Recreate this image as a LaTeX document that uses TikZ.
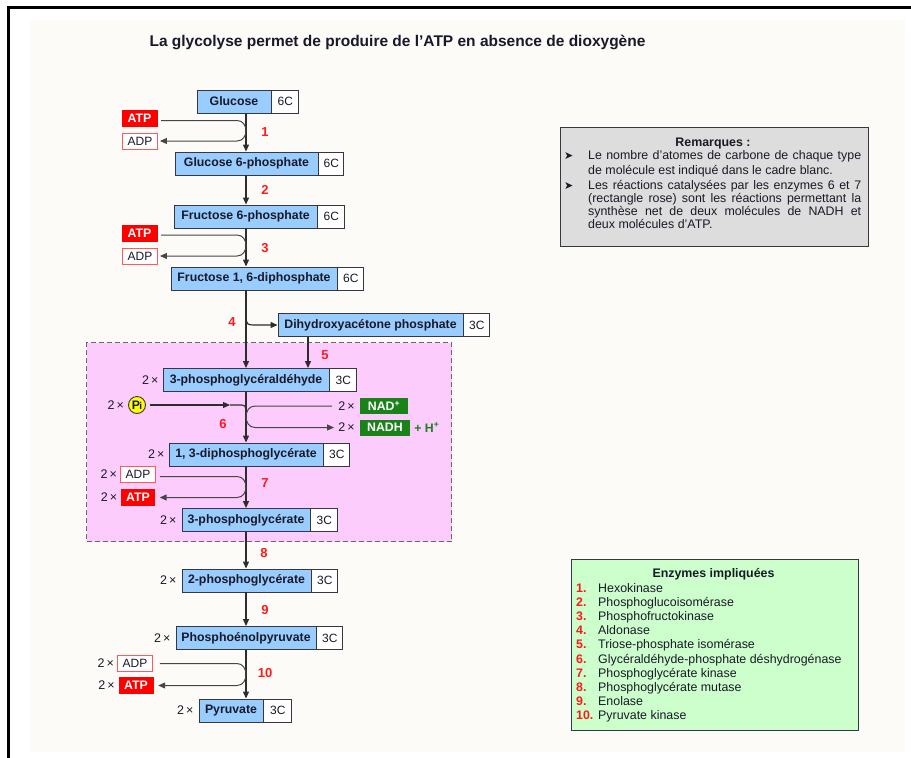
\documentclass[tikz,border=0pt]{standalone}
\usepackage{fontspec}
\setmainfont{Liberation Sans}
\newfontfamily\glyDejavu{DejaVu Sans}
\usetikzlibrary{arrows.meta}
\definecolor{boxblue}{RGB}{153,204,255}
\definecolor{edgec}{RGB}{55,55,65}
\definecolor{txtc}{RGB}{25,25,40}
\definecolor{atpred}{RGB}{255,0,0}
\definecolor{adpred}{RGB}{255,90,90}
\definecolor{nadgreen}{RGB}{25,130,25}
\definecolor{pinkfill}{RGB}{252,204,252}
\definecolor{pinkedge}{RGB}{110,100,110}
\definecolor{remgray}{RGB}{221,221,221}
\definecolor{enzgreen}{RGB}{204,255,204}
\definecolor{numred}{RGB}{255,25,25}
\definecolor{bgc}{RGB}{252,251,247}
\definecolor{piyellow}{RGB}{255,255,0}
\definecolor{linec}{RGB}{45,45,45}
\definecolor{ulinec}{RGB}{70,70,70}
\newcommand\glyBox{\fontsize{12.3}{14}\selectfont\bfseries}
\newcommand\glyC{\fontsize{12}{14}\selectfont}
\newcommand\glyAtp{\fontsize{12.3}{14}\selectfont\bfseries}
\newcommand\glyAdp{\fontsize{12}{14}\selectfont}
\newcommand\glyTwo{\fontsize{12.5}{14}\selectfont}
\newcommand\glyNum{\fontsize{13}{14}\selectfont\bfseries}
\newcommand\glyTitle{\fontsize{15.5}{18}\selectfont\bfseries}
\newcommand\glyRem{\fontsize{12.4}{14}\selectfont}
\newcommand\glyRemB{\fontsize{12.4}{14}\selectfont\bfseries}
\newcommand\glyBul{\fontsize{11}{12}\selectfont\glyDejavu}
\tikzset{
  bbox/.style={draw=edgec, fill=boxblue, line width=0.9pt, minimum height=23pt, inner sep=0pt, font=\glyBox, text=txtc},
  cbox/.style={draw=edgec, fill=white, line width=0.9pt, minimum height=23pt, inner sep=0pt, font=\glyC, text=txtc, anchor=west},
  atpbox/.style={fill=atpred, draw=atpred, minimum width=35pt, minimum height=16pt, inner sep=0pt, font=\glyAtp, text=white},
  adpbox/.style={fill=white, draw=adpred, line width=0.9pt, minimum width=35pt, minimum height=16pt, inner sep=0pt, font=\glyAdp, text=txtc},
  nadbox/.style={fill=nadgreen, minimum height=16pt, inner sep=0pt, font=\glyAtp, text=white},
  twox/.style={font=\glyTwo, text=txtc, inner sep=0pt, anchor=east},
  stepnum/.style={font=\glyNum, text=numred, inner sep=0pt},
  flow/.style={draw=linec, line width=1.2pt, -{Triangle[length=7pt,width=6pt]}},
  uflow/.style={draw=ulinec, line width=1pt, -{Triangle[length=7pt,width=6pt]}},
  uline/.style={draw=linec, line width=1.2pt},
  remline/.style={anchor=base west, inner sep=0pt, font=\glyRem, text=txtc},
}
\begin{document}
\begin{tikzpicture}[x=1pt,y=-1pt]
\useasboundingbox (0,0) rectangle (911,758);
\fill[white] (0,0) rectangle (911,758);
\fill[bgc] (30,20) rectangle (905,752);
\draw[line width=3pt, black] (8,758) -- (8,7.5) -- (911,7.5);

% title
\node[font=\glyTitle, text=txtc, inner sep=0pt] (title) at (397.5,42) {La glycolyse permet de produire de l'ATP en absence de dioxygène};

% pink zone
\node[draw=pinkedge, fill=pinkfill, line width=1pt, dash pattern=on 5pt off 3pt, minimum width=365pt, minimum height=199pt, inner sep=0pt, anchor=north west] (pinkzone) at (86,342) {};

% molecules
\node[bbox, minimum width=74pt] (glc) at (234,101.5) {Glucose};
\node[cbox, minimum width=27pt] (glcC) at (glc.east) {6C};
\node[bbox, minimum width=143pt] (g6p) at (246.5,163.5) {Glucose 6-phosphate};
\node[cbox, minimum width=25pt] (g6pC) at (g6p.east) {6C};
\node[bbox, minimum width=143pt] (f6p) at (245.5,216.5) {Fructose 6-phosphate};
\node[cbox, minimum width=27pt] (f6pC) at (f6p.east) {6C};
\node[bbox, minimum width=166pt] (f16) at (254,278.5) {Fructose 1, 6-diphosphate};
\node[cbox, minimum width=26pt] (f16C) at (f16.east) {6C};
\node[bbox, minimum width=185pt] (dhap) at (370.5,325) {Dihydroxyacétone phosphate};
\node[cbox, minimum width=26pt] (dhapC) at (dhap.east) {3C};
\node[bbox, minimum width=166pt] (pgal) at (246,380) {3-phosphoglycéraldéhyde};
\node[cbox, minimum width=27pt] (pgalC) at (pgal.east) {3C};
\node[bbox, minimum width=154pt] (bpg) at (246,454.5) {1, 3-diphosphoglycérate};
\node[cbox, minimum width=26pt] (bpgC) at (bpg.east) {3C};
\node[bbox, minimum width=128pt] (pg3) at (246,520) {3-phosphoglycérate};
\node[cbox, minimum width=27pt] (pg3C) at (pg3.east) {3C};
\node[bbox, minimum width=129pt] (pg2) at (246.5,580.5) {2-phosphoglycérate};
\node[cbox, minimum width=26pt] (pg2C) at (pg2.east) {3C};
\node[bbox, minimum width=140pt] (pep) at (246,638) {Phosphoénolpyruvate};
\node[cbox, minimum width=26pt] (pepC) at (pep.east) {3C};
\node[bbox, minimum width=64pt] (pyr) at (231,710.5) {Pyruvate};
\node[cbox, minimum width=28pt] (pyrC) at (pyr.east) {3C};

% 2x labels of molecules
\node[twox] (tpgal) at ([xshift=-4pt]pgal.west) {2\,×};
\node[twox] (tbpg) at ([xshift=-4pt]bpg.west) {2\,×};
\node[twox] (tpg3) at ([xshift=-5pt]pg3.west) {2\,×};
\node[twox] (tpg2) at ([xshift=-5pt]pg2.west) {2\,×};
\node[twox] (tpep) at ([xshift=-5pt]pep.west) {2\,×};
\node[twox] (tpyr) at ([xshift=-5pt]pyr.west) {2\,×};

% ATP / ADP
\node[atpbox] (atp1) at (139.5,118.5) {ATP};
\node[adpbox] (adp1) at (140,141) {ADP};
\node[atpbox] (atp2) at (139.5,233) {ATP};
\node[adpbox] (adp2) at (140,256) {ADP};
\node[adpbox] (adp3) at (138,474.5) {ADP};
\node[atpbox, minimum width=33pt] (atp3) at (138,497.5) {ATP};
\node[adpbox] (adp4) at (135,663.5) {ADP};
\node[atpbox, minimum width=34pt] (atp4) at (136,685.5) {ATP};
\node[twox] (tadp3) at ([xshift=-3pt]adp3.west) {2\,×};
\node[twox] (tatp3) at ([xshift=-4pt]atp3.west) {2\,×};
\node[twox] (tadp4) at ([xshift=-3pt]adp4.west) {2\,×};
\node[twox] (tatp4) at ([xshift=-4pt]atp4.west) {2\,×};

% Pi and NAD
\node[draw=edgec, fill=piyellow, circle, line width=0.9pt, minimum size=17pt, inner sep=0pt, font=\glyAtp, text=txtc] (pi) at (137,405) {P\kern-0.5pt{\fontsize{10}{10}\selectfont i}};
\node[twox] (tpi) at ([xshift=-4pt]pi.west) {2\,×};
\node[nadbox, minimum width=48pt] (nadp) at (384,406) {NAD\textsuperscript{+}};
\node[twox] (tnadp) at ([xshift=-5pt]nadp.west) {2\,×};
\node[nadbox, minimum width=50pt] (nadh) at (385,427.5) {NADH};
\node[twox] (tnadh) at ([xshift=-5pt]nadh.west) {2\,×};
\node[anchor=west, font=\glyAtp, text=nadgreen, inner sep=0pt] (hplus) at ([xshift=4pt]nadh.east) {+ H\textsuperscript{+}};

% step numbers
\node[stepnum] (s1) at (265,132) {1};
\node[stepnum] (s2) at (265,190) {2};
\node[stepnum] (s3) at (265,248) {3};
\node[stepnum] (s4) at (232,322) {4};
\node[stepnum] (s5) at (325,355) {5};
\node[stepnum] (s6) at (223,424) {6};
\node[stepnum] (s7) at (265,483) {7};
\node[stepnum] (s8) at (264,553) {8};
\node[stepnum] (s9) at (265,610) {9};
\node[stepnum] (s10) at (265,673) {10};

% main spine
\coordinate (sp) at (246,0);
\coordinate (uL) at (237,0);
\coordinate (uR) at (255,0);
\coordinate (b5) at (308,0);
\foreach \a/\b in {glc/g6p, g6p/f6p, f6p/f16, f16/pgal, pgal/bpg, bpg/pg3, pg3/pg2, pg2/pep, pep/pyr}
  \draw[flow] (\a.south -| sp) -- (\b.north -| sp);

% step 4 and 5
\coordinate (br4) at (246,314);
\draw[flow] (br4) .. controls (246,325) .. (258,325) -- (dhap.west);
\draw[flow] (dhap.south -| b5) -- (pgal.north -| b5);

% cofactor U-turns (left)
\draw[uflow] ([xshift=4pt,yshift=-2pt]atp1.east) -- ([yshift=-2pt]atp1.east -| uL) .. controls ([xshift=12pt,yshift=-2pt]atp1.east -| uL) and ([xshift=12pt]adp1.east -| uL) .. (adp1.east -| uL) -- ([xshift=2pt]adp1.east);
\draw[uflow] ([xshift=4pt,yshift=-2pt]atp2.east) -- ([yshift=-2pt]atp2.east -| uL) .. controls ([xshift=12pt,yshift=-2pt]atp2.east -| uL) and ([xshift=12pt]adp2.east -| uL) .. (adp2.east -| uL) -- ([xshift=2pt]adp2.east);
\draw[uflow] ([xshift=4pt,yshift=-2pt]adp3.east) -- ([yshift=-2pt]adp3.east -| uL) .. controls ([xshift=12pt,yshift=-2pt]adp3.east -| uL) and ([xshift=12pt]atp3.east -| uL) .. (atp3.east -| uL) -- ([xshift=5pt]atp3.east);
\draw[uflow] ([xshift=7pt]adp4.east) -- (adp4.east -| uL) .. controls ([xshift=12pt]adp4.east -| uL) and ([xshift=12pt]atp4.east -| uL) .. (atp4.east -| uL) -- ([xshift=5pt]atp4.east);

% Pi
\coordinate (pimid) at (230,405);
\coordinate (pijoin) at (246,414);
\draw[flow] ([xshift=4pt]pi.east) -- (pimid);
\draw[uline] (pimid) -- (238,405) .. controls (246,405) .. (pijoin);

% NAD U-turn (right)
\draw[uflow] ([xshift=-6pt]tnadp.west) -- (tnadp.west -| uR) .. controls ([xshift=-12pt]tnadp.west -| uR) and ([xshift=-12pt]tnadh.west -| uR) .. (tnadh.west -| uR) -- ([xshift=-4pt]tnadh.west);

% Remarques
\node[draw=edgec, fill=remgray, line width=0.9pt, minimum width=308pt, minimum height=119pt, inner sep=0pt, anchor=north west] (rembox) at (560,127) {};
\node[font=\glyRemB, text=txtc, inner sep=0pt] (remt) at (713,144) {Remarques :};
\node[font=\glyBul, text=txtc, inner sep=0pt, anchor=base west] (bu1) at (564,159.5) {➤};
\node[font=\glyBul, text=txtc, inner sep=0pt, anchor=base west] (bu2) at (564,189.5) {➤};
\node[remline] (r1) at (588,159.5) {\makebox[273pt][s]{Le nombre d'atomes de carbone de chaque type}};
\node[remline] (r2) at (588,174) {de molécule est indiqué dans le cadre blanc.};
\node[remline] (r3) at (588,189.5) {\makebox[273pt][s]{Les réactions catalysées par les enzymes 6 et 7}};
\node[remline] (r4) at (588,202) {\makebox[273pt][s]{(rectangle rose) sont les réactions permettant la}};
\node[remline] (r5) at (588,215) {\makebox[273pt][s]{synthèse net de deux molécules de NADH et}};
\node[remline] (r6) at (588,228) {deux molécules d'ATP.};

% Enzymes
\node[draw=edgec, fill=enzgreen, line width=0.9pt, minimum width=287pt, minimum height=171pt, inner sep=0pt, anchor=north west] (enzbox) at (571,559) {};
\node[font=\glyRemB, text=txtc, inner sep=0pt] (enzt) at (713.5,574) {Enzymes impliquées};
\foreach \t [count=\i] in {Hexokinase, Phosphoglucoisomérase, Phosphofructokinase, Aldonase, Triose-phosphate isomérase, Glycéraldéhyde-phosphate déshydrogénase, Phosphoglycérate kinase, Phosphoglycérate mutase, Enolase, Pyruvate kinase} {
  \node[anchor=base west, font=\glyRemB, text=numred, inner sep=0pt] (en\i) at (576,{592.5+14.1*(\i-1)}) {\i.};
  \node[remline] (et\i) at (598,{592.5+14.1*(\i-1)}) {\t};
}
\end{tikzpicture}
\end{document}
